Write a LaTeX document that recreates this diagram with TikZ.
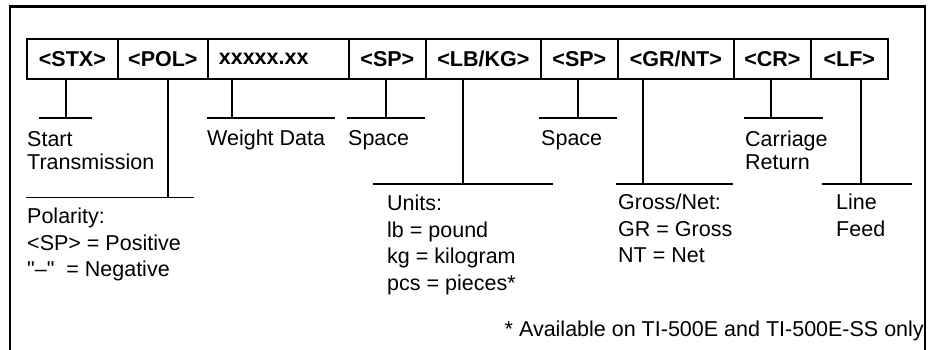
\documentclass[tikz,border=0pt]{standalone}
\usepackage{fontspec}
\setmainfont{Liberation Sans}
\newfontfamily\plainq{Liberation Sans}
\begin{document}
\begin{tikzpicture}[x=1pt,y=-1pt,
  cell/.style={draw,line width=1.7pt,minimum height=40pt,inner sep=0pt,font=\fontsize{21.5}{24}\selectfont\bfseries,anchor=west},
  stub/.style={line width=1.7pt},
  frame/.style={line width=2.6pt},
  lbl/.style={anchor=base west,inner sep=0pt,align=left,font=\fontsize{21.5}{24}\selectfont},
  lbltall/.style={anchor=base west,inner sep=0pt,align=left,font=\fontsize{21.5}{26.5}\selectfont}]
\useasboundingbox (0,0) rectangle (932,350);
% outer frame (open at bottom)
\draw[frame] (10,352) -- (10,6.5) -- (925,6.5) -- (925,352);
% cells
\node[cell,minimum width=91pt]  (stx) at (26,59)  {<STX>};
\node[cell,minimum width=90pt]  (pol) at (117,59) {<POL>};
\node[cell,minimum width=141pt,text width=141pt,align=left] (wt) at (207,59) {\hspace*{11pt}xxxxx.xx};
\node[cell,minimum width=77pt]  (sp1) at (348,59) {<SP>};
\node[cell,minimum width=115pt] (lbkg) at (425,59) {<LB/KG>};
\node[cell,minimum width=77pt]  (sp2) at (540,59) {<SP>};
\node[cell,minimum width=116pt] (grnt) at (617,59) {<GR/NT>};
\node[cell,minimum width=77pt]  (cr) at (733,59) {<CR>};
\node[cell,minimum width=77pt]  (lf) at (810,59) {<LF>};
% stub ends
\coordinate (stxT) at (66,79);   \coordinate (stxB) at (66,118);
\coordinate (polT) at (168,79);  \coordinate (polB) at (168,197.5);
\coordinate (wtT) at (232,79);   \coordinate (wtB) at (232,118);
\coordinate (sp1T) at (386,79);  \coordinate (sp1B) at (386,118);
\coordinate (lbT) at (463,79);   \coordinate (lbB) at (463,184);
\coordinate (sp2T) at (578,79);  \coordinate (sp2B) at (578,118);
\coordinate (grT) at (643,79);   \coordinate (grB) at (643,184);
\coordinate (crT) at (771,79);   \coordinate (crB) at (771,118);
\coordinate (lfT) at (861,79);   \coordinate (lfB) at (861,184);
\draw[stub] (stxT) -- (stxB);
\draw[stub] (polT) -- (polB);
\draw[stub] (wtT) -- (wtB);
\draw[stub] (sp1T) -- (sp1B);
\draw[stub] (lbT) -- (lbB);
\draw[stub] (sp2T) -- (sp2B);
\draw[stub] (grT) -- (grB);
\draw[stub] (crT) -- (crB);
\draw[stub] (lfT) -- (lfB);
% crossbars
\draw[stub] (39,118) -- (92,118);
\draw[stub] (26,197.5) -- (194,197.5);
\draw[stub] (207,118) -- (335,118);
\draw[stub] (347,118) -- (425,118);
\draw[stub] (373,184) -- (553,184);
\draw[stub] (539,118) -- (617,118);
\draw[stub] (616,184) -- (733,184);
\draw[stub] (744,118) -- (823,118);
\draw[stub] (822,184) -- (912,184);
% labels (base anchor = baseline of last line)
\node[lbl] (tstx) at (27,170) {Start\\Transmission};
\node[lbl] (twt) at (207,146) {Weight Data};
\node[lbl] (tsp1) at (348,146) {Space};
\node[lbl] (tsp2) at (541,146) {Space};
\node[lbl] (tcr) at (745,170) {Carriage\\Return};
\node[lbltall] (tpol) at (27,276.5) {Polarity:\\<SP> = Positive\\{\plainq "–"}\ \ = Negative};
\node[lbltall] (tlb) at (387,290) {Units:\\lb = pound\\kg = kilogram\\pcs = pieces*};
\node[lbltall] (tgr) at (618,262.5) {Gross/Net:\\GR = Gross\\NT = Net};
\node[lbltall] (tlf) at (836,236) {Line\\Feed};
\node[anchor=base east,inner sep=0pt,font=\fontsize{21.5}{24}\selectfont] (foot) at (924,336) {* Available on TI-500E and TI-500E-SS only};
\end{tikzpicture}
\end{document}
